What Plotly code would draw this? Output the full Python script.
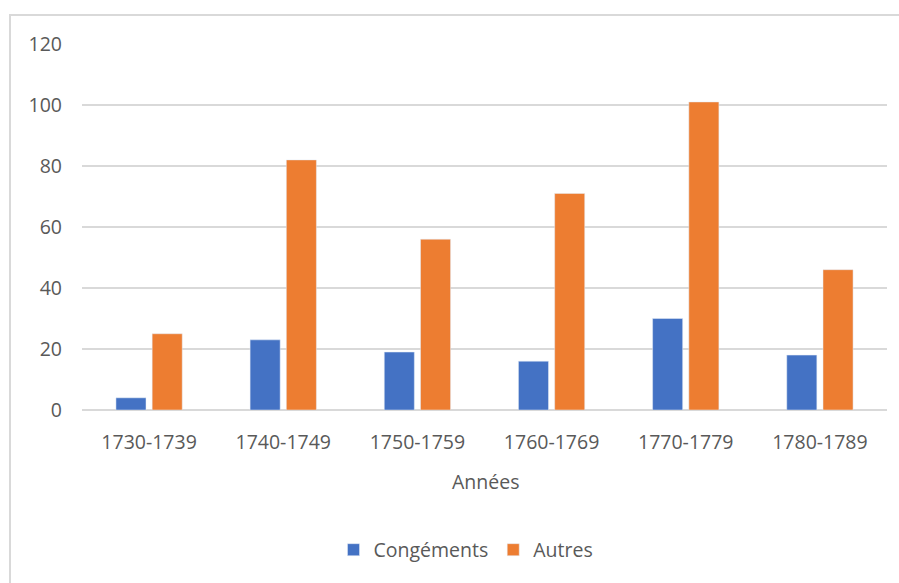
import plotly.graph_objects as go

categories = ["1730-1739", "1740-1749", "1750-1759", "1760-1769", "1770-1779", "1780-1789"]
congements = [4, 23, 19, 16, 30, 18]
autres = [25, 82, 56, 71, 101, 46]
y_ticks = [0, 20, 40, 60, 80, 100, 120]

FONT = "Open Sans"
GRAY = "#595959"
FS = 19.5

fig = go.Figure()
fig.add_trace(go.Bar(x=categories, y=congements, name="Congéments", marker=dict(color="#4472C4")))
fig.add_trace(go.Bar(x=categories, y=autres, name="Autres", marker=dict(color="#ED7D31")))

L, R, T, B = 82, 887, 44, 410
W, H = 899, 583
pw, ph = R - L, B - T

def px(x):
    return (x - L) / pw

def py(y):
    return (B - y) / ph

fig.update_layout(
    width=W, height=H,
    margin=dict(l=L, r=W - R, t=T, b=H - B, pad=0),
    paper_bgcolor="white", plot_bgcolor="white",
    barmode="group", bargap=0.46, bargroupgap=0.17,
    font=dict(family=FONT, size=FS, color=GRAY),
    showlegend=True,
    legend=dict(orientation="h", x=px(466), y=py(550), xanchor="center", yanchor="middle",
                font=dict(family=FONT, size=FS, color=GRAY), itemwidth=30, traceorder="normal"),
    xaxis=dict(showgrid=False, showline=False, ticks="", tickfont=dict(size=FS, color=GRAY),
               ticklabelstandoff=18),
    yaxis=dict(range=[0, 120], tickvals=y_ticks, showgrid=True, gridcolor="#d9d9d9", gridwidth=1.5,
               zeroline=True, zerolinecolor="#d9d9d9", zerolinewidth=1.5, showline=False, ticks="",
               tickfont=dict(size=FS, color=GRAY), ticklabelstandoff=19),
    annotations=[dict(text="Années", xref="paper", yref="paper", x=px(485), y=py(481),
                      xanchor="center", yanchor="middle", showarrow=False,
                      font=dict(family=FONT, size=FS, color=GRAY))],
    shapes=[dict(type="rect", xref="paper", yref="paper", x0=px(10), x1=px(905), y0=py(600), y1=py(15),
                 line=dict(color="#d9d9d9", width=2), layer="below")],
)

fig.write_html("out.html", config={"displayModeBar": False},
               post_script="document.body.style.margin='0';")
